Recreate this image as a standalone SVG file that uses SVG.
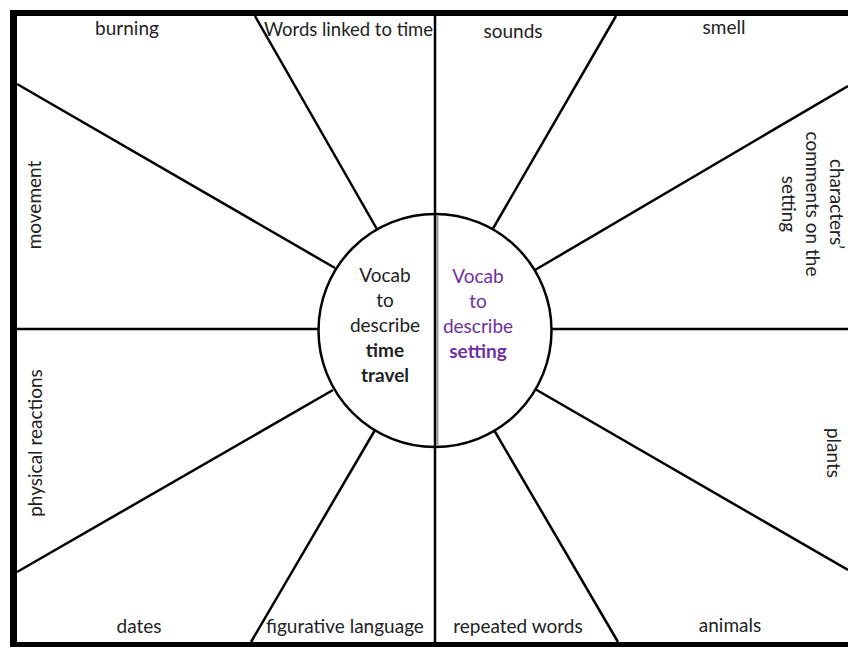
<svg xmlns="http://www.w3.org/2000/svg" width="848" height="647" viewBox="0 0 848 647">
<style>
.t{font-family:Lato,"Open Sans","Liberation Sans",sans-serif;font-size:19px;fill:#222;}
.m{text-anchor:middle;}
.b{font-weight:bold;}
.p{fill:#7030A0;}
.ln{stroke:#000;stroke-width:2.5;fill:none;stroke-linecap:butt;}
.frame{stroke:#000;fill:none;}
</style>
<rect x="0" y="0" width="848" height="647" fill="#fff"/>
<g id="frame">
<line class="frame" x1="10" y1="13" x2="848" y2="13" stroke-width="6"/>
<line class="frame" x1="13.5" y1="10" x2="13.5" y2="647" stroke-width="7"/>
<line class="frame" x1="10" y1="645" x2="848" y2="645" stroke-width="6"/>
</g>
<g id="connectors">
<line class="ln" x1="435" y1="16" x2="435" y2="642"/>
<line class="ln" x1="17" y1="329" x2="848" y2="329"/>
<line class="ln" x1="17" y1="84" x2="335" y2="268"/>
<line class="ln" x1="255" y1="16" x2="378" y2="231"/>
<line class="ln" x1="616" y1="16" x2="491" y2="232"/>
<line class="ln" x1="848" y1="86" x2="535" y2="270"/>
<line class="ln" x1="848" y1="570" x2="535" y2="389"/>
<line class="ln" x1="618" y1="642" x2="494" y2="430"/>
<line class="ln" x1="251" y1="642" x2="375" y2="430"/>
<line class="ln" x1="17" y1="572" x2="333" y2="390"/>
</g>
<g id="hub">
<circle cx="435" cy="330.5" r="116.5" fill="#fff" stroke="#000" stroke-width="2.5"/>
<line x1="437.5" y1="215" x2="437.5" y2="446" stroke="#999" stroke-width="2"/>
<line x1="435" y1="214" x2="435" y2="447" stroke="#000" stroke-width="2.5"/>
<text class="t m" x="385" y="282">Vocab</text>
<text class="t m" x="385" y="307">to</text>
<text class="t m" x="385" y="332">describe</text>
<text class="t m b" x="385" y="357">time</text>
<text class="t m b" x="385" y="382">travel</text>
<text class="t m p" x="478" y="283">Vocab</text>
<text class="t m p" x="478" y="308">to</text>
<text class="t m p" x="478" y="333">describe</text>
<text class="t m p b" x="478" y="358">setting</text>
</g>
<g id="burning"><text class="t m" x="127" y="35">burning</text></g>
<g id="words-linked-to-time"><text class="t m" x="348.5" y="36" style="font-size:18.5px">Words linked to time</text></g>
<g id="sounds"><text class="t m" x="513" y="38">sounds</text></g>
<g id="smell"><text class="t m" x="724" y="34">smell</text></g>
<g id="movement"><text class="t m" transform="translate(41,205) rotate(-90)">movement</text></g>
<g id="physical-reactions"><text class="t m" transform="translate(42,443) rotate(-90)">physical reactions</text></g>
<g id="characters-comments"><text class="t m" transform="translate(830,204) rotate(90)"><tspan x="0" y="0">characters’</tspan><tspan x="0" y="24">comments on the</tspan><tspan x="0" y="48">setting</tspan></text></g>
<g id="plants"><text class="t m" transform="translate(827,453) rotate(90)">plants</text></g>
<g id="dates"><text class="t m" x="139" y="633">dates</text></g>
<g id="figurative-language"><text class="t m" x="345" y="633">figurative language</text></g>
<g id="repeated-words"><text class="t m" x="518" y="633">repeated words</text></g>
<g id="animals"><text class="t m" x="730" y="632">animals</text></g>
</svg>
